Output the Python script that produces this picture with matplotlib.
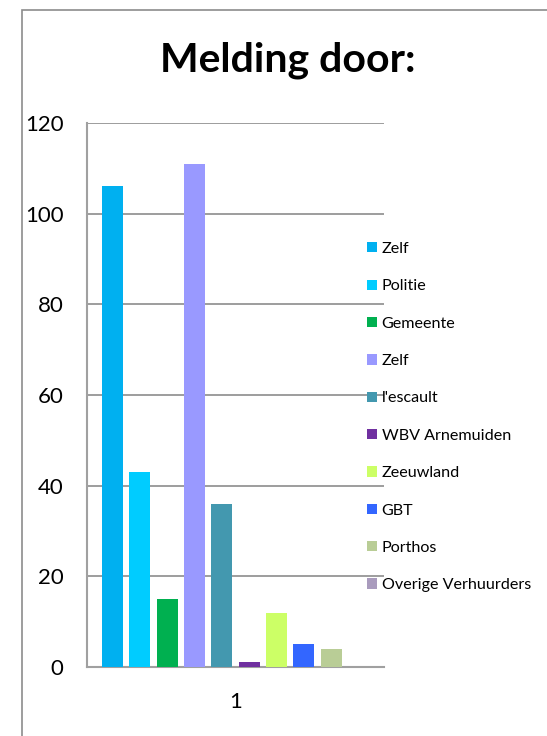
import matplotlib.pyplot as plt
from matplotlib.patches import Rectangle

# Data
labels = ["Zelf", "Politie", "Gemeente", "Zelf", "l'escault", "WBV Arnemuiden",
          "Zeeuwland", "GBT", "Porthos", "Overige Verhuurders"]
values = [106, 43, 15, 111, 36, 1, 12, 5, 4, 0]
colors = ["#00B0F0", "#00CCFF", "#00B050", "#9999FF", "#4398AF", "#7030A0",
          "#CCFF66", "#3366FF", "#B9CD96", "#A99BBD"]
y_ticks = [0, 20, 40, 60, 80, 100, 120]
category = "1"

plt.rcParams["font.family"] = ["Lato", "DejaVu Sans"]

W, H = 547, 736
fig = plt.figure(figsize=(W / 100, H / 100), dpi=100)

# outer chart frame (continues past right and bottom edge)
fig.patches.append(Rectangle((22 / W, -0.05), 1.1, (H - 10) / H + 0.05,
                             transform=fig.transFigure, fill=False,
                             edgecolor="#8c8c8c", linewidth=1.2))

ax = fig.add_axes([87 / W, 1 - 667 / H, (384 - 87) / W, (667 - 123) / H])
for i, (v, c, lab) in enumerate(zip(values, colors, labels)):
    ax.bar(i, v, width=0.77, color=c, label=lab, zorder=3)

ax.set_ylim(0, 120)
ax.set_xlim(-0.93, 9.93)
ax.set_yticks(y_ticks)
ax.set_yticklabels([str(t) for t in y_ticks], fontsize=16)
ax.set_xticks([4.5])
ax.set_xticklabels([category], fontsize=16)
ax.tick_params(axis="y", length=0, pad=17)
ax.tick_params(axis="x", length=0, pad=18)
ax.grid(axis="y", color="#8c8c8c", linewidth=1.2, zorder=0)
for side in ["top", "right"]:
    ax.spines[side].set_visible(False)
for side in ["left", "bottom"]:
    ax.spines[side].set_color("#a0a0a0")
    ax.spines[side].set_linewidth(1.5)

fig.text(288 / W, 1 - 60 / H, "Melding door:", fontsize=29.5, fontweight="bold",
         ha="center", va="center")

ax.legend(loc="upper left", bbox_to_anchor=(367 / W, 1 - 242 / H),
          bbox_transform=fig.transFigure, frameon=False, fontsize=11.6,
          handlelength=0.6, handleheight=0.6, handletextpad=0.3,
          labelspacing=1.45, borderpad=0, borderaxespad=0)

fig.savefig("out.png", dpi=100)
